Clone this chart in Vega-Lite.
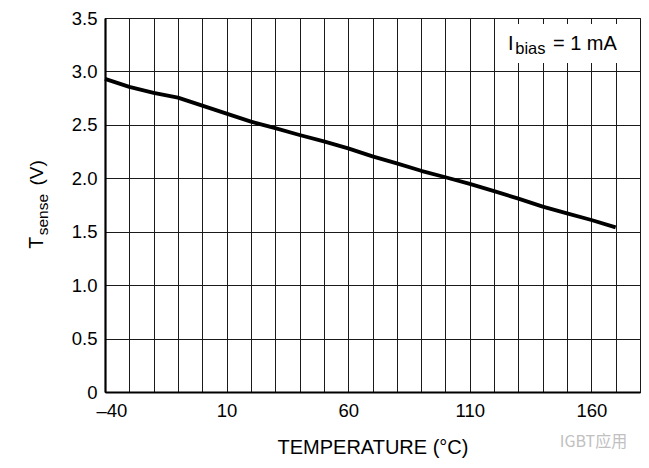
{
  "$schema": "https://vega.github.io/schema/vega-lite/v6.json",
  "description": "Tsense vs temperature at Ibias = 1 mA",
  "autosize": "none",
  "width": 535,
  "height": 374,
  "padding": {"left": 105, "top": 18, "right": 9, "bottom": 76},
  "config": {
    "view": {"stroke": "#111", "strokeWidth": 1},
    "font": "Liberation Sans",
    "axis": {
      "labelFont": "Liberation Sans",
      "titleFont": "Liberation Sans",
      "labelFontSize": 18.5,
      "titleFontSize": 20,
      "labelColor": "#000",
      "titleColor": "#000",
      "titleFontWeight": "normal",
      "ticks": false,
      "grid": true,
      "gridColor": "#1a1a1a",
      "gridWidth": 1,
      "gridOpacity": 1,
      "domainColor": "#000",
      "domainWidth": 2.2,
      "labelOverlap": false,
      "labelBound": false
    }
  },
  "data": {
    "values": [
      {"T": -40, "V": 2.93},
      {"T": -30, "V": 2.855},
      {"T": -20, "V": 2.8},
      {"T": -10, "V": 2.755},
      {"T": 0, "V": 2.68},
      {"T": 10, "V": 2.605},
      {"T": 20, "V": 2.53},
      {"T": 30, "V": 2.47},
      {"T": 40, "V": 2.405},
      {"T": 50, "V": 2.345},
      {"T": 60, "V": 2.28},
      {"T": 70, "V": 2.205},
      {"T": 80, "V": 2.14},
      {"T": 90, "V": 2.07},
      {"T": 100, "V": 2.01},
      {"T": 110, "V": 1.947},
      {"T": 120, "V": 1.88},
      {"T": 130, "V": 1.81},
      {"T": 140, "V": 1.735},
      {"T": 150, "V": 1.672},
      {"T": 160, "V": 1.61},
      {"T": 170, "V": 1.54}
    ]
  },
  "layer": [
    {
      "mark": {"type": "line", "color": "#000", "strokeWidth": 3.8, "strokeCap": "butt", "strokeJoin": "round"},
      "encoding": {
        "x": {
          "field": "T",
          "type": "quantitative",
          "scale": {"domain": [-40, 180], "nice": false, "zero": false},
          "axis": {
            "title": "TEMPERATURE (°C)",
            "titlePadding": 18,
            "tickCount": 40,
            "values": [-40, -30, -20, -10, 0, 10, 20, 30, 40, 50, 60, 70, 80, 90, 100, 110, 120, 130, 140, 150, 160, 170, 180],
            "labelExpr": "(datum.value + 40) % 50 == 0 && datum.value < 180 ? (datum.value < 0 ? '–' + abs(datum.value) : datum.label) : ''",
            "labelPadding": 9,
            "labelFlush": true,
            "labelFlushOffset": 9
          }
        },
        "y": {
          "field": "V",
          "type": "quantitative",
          "scale": {"domain": [0, 3.5], "nice": false},
          "axis": {
            "title": null,
            "tickCount": 20,
            "values": [0, 0.5, 1, 1.5, 2, 2.5, 3, 3.5],
            "labelExpr": "datum.value == 0 ? '0' : format(datum.value, '.1f')",
            "labelPadding": 8
          }
        }
      }
    },
    {
      "data": {"values": [{"box": "legend"}]},
      "mark": {"type": "rect", "fill": "#fff", "stroke": null},
      "encoding": {
        "x": {"datum": 122.5},
        "x2": {"datum": 174},
        "y": {"datum": 3.08},
        "y2": {"datum": 3.445}
      }
    },
    {
      "data": {"values": [{"t": "I"}]},
      "mark": {"type": "text", "fontSize": 20, "align": "left", "baseline": "alphabetic", "color": "#000", "font": "Liberation Sans"},
      "encoding": {
        "x": {"datum": 125.7},
        "y": {"datum": 3.202},
        "text": {"field": "t"}
      }
    },
    {
      "data": {"values": [{"t": "bias"}]},
      "mark": {"type": "text", "fontSize": 16.5, "align": "left", "baseline": "alphabetic", "color": "#000", "font": "Liberation Sans"},
      "encoding": {
        "x": {"datum": 128.7},
        "y": {"datum": 3.162},
        "text": {"field": "t"}
      }
    },
    {
      "data": {"values": [{"t": "= 1 mA"}]},
      "mark": {"type": "text", "fontSize": 20, "align": "left", "baseline": "alphabetic", "color": "#000", "font": "Liberation Sans"},
      "encoding": {
        "x": {"datum": 144.2},
        "y": {"datum": 3.202},
        "text": {"field": "t"}
      }
    },
    {
      "data": {"values": [{"t": "T"}]},
      "mark": {"type": "text", "fontSize": 19.5, "angle": 270, "align": "left", "baseline": "alphabetic", "color": "#000", "font": "Liberation Sans"},
      "encoding": {
        "x": {"datum": -65.7},
        "y": {"datum": 1.34},
        "text": {"field": "t"}
      }
    },
    {
      "data": {"values": [{"t": "sense"}]},
      "mark": {"type": "text", "fontSize": 15.5, "angle": 270, "align": "left", "baseline": "alphabetic", "color": "#000", "font": "Liberation Sans"},
      "encoding": {
        "x": {"datum": -63.4},
        "y": {"datum": 1.466},
        "text": {"field": "t"}
      }
    },
    {
      "data": {"values": [{"t": "(V)"}]},
      "mark": {"type": "text", "fontSize": 19, "angle": 270, "align": "left", "baseline": "alphabetic", "color": "#000", "font": "Liberation Sans"},
      "encoding": {
        "x": {"datum": -65.7},
        "y": {"datum": 1.932},
        "text": {"field": "t"}
      }
    },
    {
      "data": {"values": [{"t": "IGBT应用"}]},
      "mark": {"type": "text", "fontSize": 16, "align": "left", "baseline": "middle", "color": "#c0c0c0", "font": "Noto Sans CJK SC"},
      "encoding": {
        "x": {"datum": 147},
        "y": {"datum": -0.47},
        "text": {"field": "t"}
      }
    }
  ]
}
